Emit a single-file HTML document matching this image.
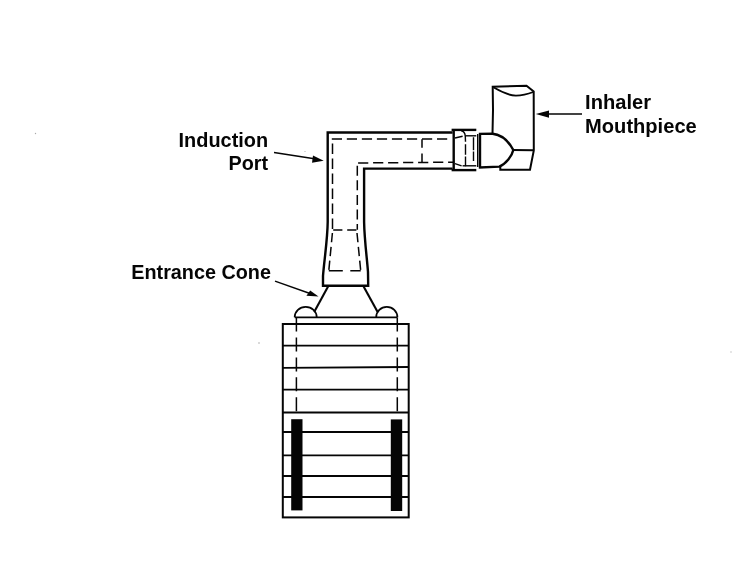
<!DOCTYPE html>
<html><head><meta charset="utf-8">
<style>
html,body{margin:0;padding:0;background:#fff;}
body{width:737px;height:570px;overflow:hidden;position:relative;}
svg{position:absolute;left:0;top:0;will-change:transform;}
text{font-family:"Liberation Sans",sans-serif;font-weight:bold;font-size:20.1px;fill:#050505;}
.s{fill:none;stroke:#050505;stroke-width:2.4;stroke-linejoin:miter;stroke-linecap:butt;}
.m{fill:none;stroke:#050505;stroke-width:1.8;}
.t{fill:none;stroke:#050505;stroke-width:1.4;}
.d{fill:none;stroke:#050505;stroke-width:1.5;stroke-dasharray:9.6 5.2;}
.k{fill:#050505;stroke:none;}
</style></head><body>
<svg width="737" height="570" viewBox="0 0 737 570">
<!-- labels -->
<text x="268.1" y="146.7" text-anchor="end" style="font-size:19.9px">Induction</text>
<text x="268.1" y="170.1" text-anchor="end" style="font-size:19.8px">Port</text>
<text x="131.3" y="279" style="font-size:19.8px">Entrance Cone</text>
<text x="585.1" y="109.1" style="font-size:20.1px">Inhaler</text>
<text x="585.1" y="132.5" style="font-size:20.1px">Mouthpiece</text>

<!-- arrows -->
<path class="t" d="M274 152.5 L316 159"/>
<path class="k" d="M323.7 160.7 L313 155.5 L312 162.7 Z"/>
<path class="t" d="M275 281.2 L310 293.5"/>
<path class="k" d="M318.5 296.6 L310.2 290.4 L306.4 295.7 Z"/>
<path class="t" d="M582 114 L545 114"/>
<path class="k" d="M535.8 114 L549 110.6 L549 117.7 Z"/>

<!-- induction port elbow -->
<path class="s" d="M452.6 132.5 L327.7 132.5 L327.7 222 C327.5 240 324 262 323 276 L323 285.8 L368.2 285.8 L368 272 C367 258 364.4 240 364.1 222 L364.1 168.6 L452.6 168.6"/>
<!-- dashed inner -->
<path class="d" d="M331.8 139.1 L447.2 139.1" style="stroke-dasharray:10.2 4.83"/>
<path class="d" d="M332.5 143.5 L332.5 229.5" style="stroke-dasharray:10.6 4.4"/>
<path class="d" d="M358.1 163 L454 162.2" style="stroke-dasharray:10.2 4.8"/>
<path class="d" d="M357.3 165.7 L357.3 229.8" style="stroke-dasharray:10 4.6"/>
<path class="d" d="M422 139.2 L422 162" style="stroke-dasharray:8.6 5.6"/>
<path class="d" d="M333.2 229.9 L357 229.9" style="stroke-dasharray:9.2 4.8"/>
<path class="d" d="M332.4 233 L328.8 270.7" style="stroke-dasharray:9.3 4.6"/>
<path class="d" d="M357 233 L360.7 270.7" style="stroke-dasharray:9.3 4.6"/>
<path class="d" d="M328.8 270.7 L360.7 270.7" style="stroke-dasharray:14 7.5 11 0"/>

<!-- entrance cone -->
<path class="s" style="stroke-width:2.1" d="M328.2 286.3 L314.3 311.8"/>
<path class="s" style="stroke-width:2.1" d="M363.6 286.5 L377.5 311.8"/>
<path class="m" d="M294.7 317.3 A11 10.4 0 0 1 316.7 317.3"/>
<path class="m" d="M376.2 317.3 A10.6 10.4 0 0 1 397.4 317.3"/>
<path class="m" d="M294.7 317.4 L397.4 317.4"/>

<!-- impactor box -->
<rect class="m" style="stroke-width:2" x="282.8" y="324" width="125.9" height="193.4"/>
<path class="m" d="M282.8 345.6 H408.7 M282.8 367.8 L408.7 367 M282.8 389.6 H408.7 M282.8 412.5 H408.7 M282.8 432 H408.7 M282.8 455.4 H408.7 M282.8 476 H408.7 M282.8 497 H408.7"/>
<path class="d" d="M296.4 317.6 L296.4 412" style="stroke-dasharray:14 5.9"/>
<path class="d" d="M397.3 317.6 L397.3 412" style="stroke-dasharray:14 5.9"/>
<rect class="k" x="291.2" y="419.2" width="11.3" height="91.2"/>
<rect class="k" x="390.8" y="419.4" width="11.4" height="91.6"/>

<!-- coupling -->
<path class="s" d="M453.7 129.7 L453.7 170.3" style="stroke-width:2.4"/>
<path class="s" d="M451.6 129.9 L476.3 129.9"/>
<path class="s" d="M451.6 170.1 L476.3 170.1"/>
<path class="t" d="M461.2 130.7 Q465 131.2 465.3 136.4 L465.5 141.7 M465.5 144.3 L465.5 154.8 M465.5 156.6 L465.5 166.2"/>
<path class="t" d="M465.3 135.8 L476.3 135.8"/>
<path class="t" d="M462.6 165.8 L476.3 165.8"/>
<path class="t" d="M455 138 L462.6 136.3"/>
<path class="t" d="M455 163.7 L461.6 165.8"/>
<path class="t" d="M473.5 137.3 L473.5 161" style="stroke-dasharray:13 1.2"/>

<!-- mouthpiece dome -->
<path class="t" d="M477.7 134 L477.7 167"/>
<path class="s" d="M480 167.2 L480 133.9 L492.6 133.7 C500 134.5 508 140 513.3 150 C512 156 506 164 499.3 166.6 L480 167.4 Z"/>
<!-- inhaler body -->
<path class="s" style="stroke-width:2" d="M492.5 133.7 L493 110 L492.7 86.8 L526.5 85.8 L533.7 91.4 L533.8 150.5 L530 169.7 L500.3 169.7 L500.3 166.5"/>
<path class="s" style="stroke-width:2" d="M513.2 150 L533.7 150.3"/>
<path class="m" d="M493.5 87.3 C499 90.5 506 95.3 515.9 95.6 C522 95.5 528 94 533.3 92"/>
<circle cx="35.5" cy="133.5" r="0.7" fill="#aaa"/><circle cx="259" cy="343" r="0.7" fill="#999"/><circle cx="305" cy="151.5" r="0.6" fill="#aaa"/><circle cx="731" cy="352" r="0.7" fill="#bbb"/>
</svg>
</body></html>
